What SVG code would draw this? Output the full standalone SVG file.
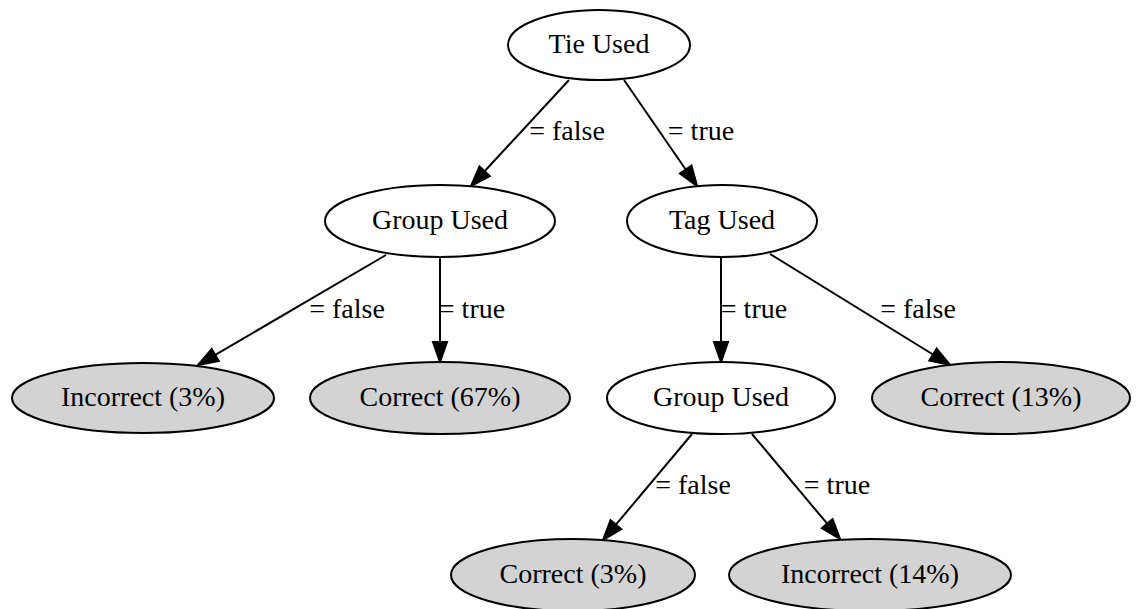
<svg xmlns="http://www.w3.org/2000/svg" width="1139" height="609" viewBox="0 0 1139 609">
<style>
  .node ellipse { stroke: #000; stroke-width: 2; }
  .plain ellipse { fill: #fff; }
  .leaf ellipse { fill: #d3d3d3; }
  text { font-family: "Liberation Serif", "Times New Roman", serif; font-size: 28px; fill: #000; }
  .node text { text-anchor: middle; }
  .elabel { text-anchor: middle; }
  .edge { stroke: #000; stroke-width: 2; fill: none; marker-end: url(#arrow); }
</style>
<defs>
  <marker id="arrow" markerUnits="userSpaceOnUse" viewBox="0 -9 23 18" markerWidth="23" markerHeight="18" refX="0" refY="0" orient="auto" overflow="visible">
    <path d="M0,-7 L20,0 L0,7 Z" fill="#000" stroke="#000" stroke-width="2"/>
  </marker>
</defs>
<rect width="1139" height="609" fill="#fff"/>
<g id="connectors">
  <path class="edge" d="M569,80 L484.6,171.3"/>
  <path class="edge" d="M624,80 L685.7,169.5"/>
  <path class="edge" d="M386,255 L215.3,354.9"/>
  <path class="edge" d="M440,257 L440,342"/>
  <path class="edge" d="M721,257 L721,342"/>
  <path class="edge" d="M770,254 L933,354.5"/>
  <path class="edge" d="M692,434 L615.9,524.7"/>
  <path class="edge" d="M752,434 L827.2,523.7"/>
  <text class="elabel" x="567" y="140">= false</text>
  <text class="elabel" x="701" y="140">= true</text>
  <text class="elabel" x="347" y="318">= false</text>
  <text class="elabel" x="472" y="318">= true</text>
  <text class="elabel" x="754" y="318">= true</text>
  <text class="elabel" x="918" y="318">= false</text>
  <text class="elabel" x="693" y="494">= false</text>
  <text class="elabel" x="837" y="494">= true</text>
</g>
<g id="tie_used" class="node plain">
  <ellipse cx="599" cy="45" rx="91" ry="35"/>
  <text x="599" y="53">Tie Used</text>
</g>
<g id="group_used_1" class="node plain">
  <ellipse cx="440" cy="221" rx="115" ry="36"/>
  <text x="440" y="229">Group Used</text>
</g>
<g id="tag_used" class="node plain">
  <ellipse cx="722" cy="221" rx="95" ry="36"/>
  <text x="722" y="229">Tag Used</text>
</g>
<g id="incorrect_3" class="node leaf">
  <ellipse cx="143" cy="398" rx="131" ry="35"/>
  <text x="143" y="406">Incorrect (3%)</text>
</g>
<g id="correct_67" class="node leaf">
  <ellipse cx="440" cy="398" rx="130" ry="36"/>
  <text x="440" y="406">Correct (67%)</text>
</g>
<g id="group_used_2" class="node plain">
  <ellipse cx="721" cy="398" rx="114" ry="36"/>
  <text x="721" y="406">Group Used</text>
</g>
<g id="correct_13" class="node leaf">
  <ellipse cx="1001" cy="398" rx="129" ry="36"/>
  <text x="1001" y="406">Correct (13%)</text>
</g>
<g id="correct_3" class="node leaf">
  <ellipse cx="573" cy="575" rx="122" ry="36"/>
  <text x="573" y="583">Correct (3%)</text>
</g>
<g id="incorrect_14" class="node leaf">
  <ellipse cx="870" cy="575" rx="141" ry="36"/>
  <text x="870" y="583">Incorrect (14%)</text>
</g>
</svg>
